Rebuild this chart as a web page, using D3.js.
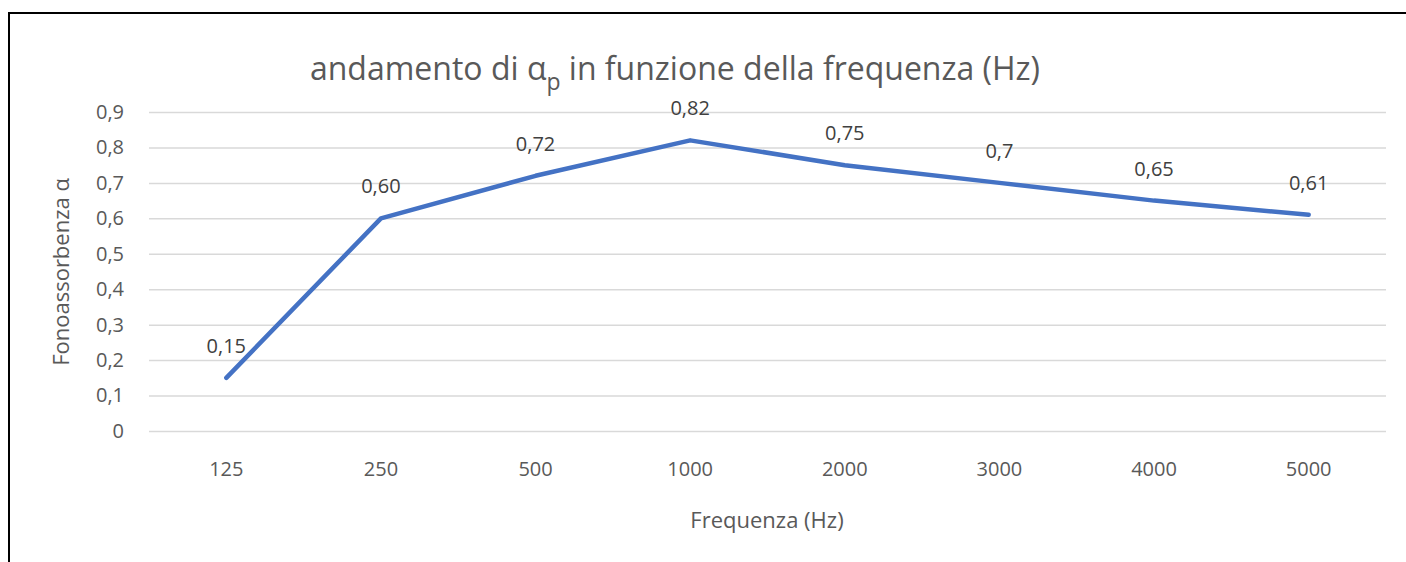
<!DOCTYPE html>
<html><head><meta charset="utf-8">
<script src="https://cdn.jsdelivr.net/npm/d3@7"></script>
<style>
html,body{margin:0;padding:0;background:#fff;}
svg{display:block;font-family:"Open Sans",sans-serif;}
</style></head>
<body><svg id="c" width="1406" height="562"></svg>
<script>
const categories = ["125","250","500","1000","2000","3000","4000","5000"];
const values = [0.15, 0.60, 0.72, 0.82, 0.75, 0.70, 0.65, 0.61];
const valueLabels = ["0,15","0,60","0,72","0,82","0,75","0,7","0,65","0,61"];
const yTicks = [0,0.1,0.2,0.3,0.4,0.5,0.6,0.7,0.8,0.9];

const svg = d3.select("#c");
// chart frame
svg.append("path").attr("d","M9,562 V13 H1406").attr("fill","none").attr("stroke","#000").attr("stroke-width",2);

const x = d3.scaleBand().domain(categories).range([149,1386]);
const y = d3.scaleLinear().domain([0,0.9]).range([431,112]);

const fmt = d => d3.format(".1f")(d).replace(".", ",");

const yAxis = svg.append("g").attr("transform","translate(149,0)")
  .call(d3.axisLeft(y).tickValues(yTicks).tickSize(-(1386-149)).tickFormat(d => d===0 ? "0" : fmt(d)));
yAxis.select(".domain").remove();
yAxis.selectAll(".tick line").attr("stroke","#d9d9d9").attr("stroke-width",1.5);
yAxis.selectAll(".tick text").attr("x",-25).attr("fill","#595959").style("font-size","20px").style("font-family","Open Sans");

const xAxis = svg.append("g").attr("transform","translate(0,431)")
  .call(d3.axisBottom(x).tickSize(0));
xAxis.select(".domain").remove();
xAxis.selectAll(".tick text").attr("y",31).attr("fill","#595959").style("font-size","20px").style("font-family","Open Sans");

const line = d3.line().x((d,i)=>x(categories[i])+x.bandwidth()/2).y(d=>y(d));
svg.append("path").datum(values).attr("d",line).attr("fill","none")
  .attr("stroke","#4472C4").attr("stroke-width",4.5).attr("stroke-linecap","round").attr("stroke-linejoin","round");

svg.append("g").selectAll("text").data(values).join("text")
  .attr("x",(d,i)=>x(categories[i])+x.bandwidth()/2)
  .attr("y",d=>y(d)-25)
  .attr("text-anchor","middle").attr("fill","#404040").style("font-size","20px")
  .text((d,i)=>valueLabels[i]);

// title
const t = svg.append("text").attr("x",675).attr("y",80).attr("text-anchor","middle")
  .attr("fill","#595959").style("font-size","32px");
t.append("tspan").text("andamento di α");
t.append("tspan").attr("dy",10).style("font-size","23px").text("p");
t.append("tspan").attr("dy",-10).text(" in funzione della frequenza (Hz)");

svg.append("text").attr("x",767).attr("y",528).attr("text-anchor","middle")
  .attr("fill","#595959").style("font-size","22px").text("Frequenza (Hz)");
svg.append("text").attr("transform","translate(69,272) rotate(-90)").attr("text-anchor","middle")
  .attr("fill","#595959").style("font-size","22px").text("Fonoassorbenza α");
</script></body></html>
